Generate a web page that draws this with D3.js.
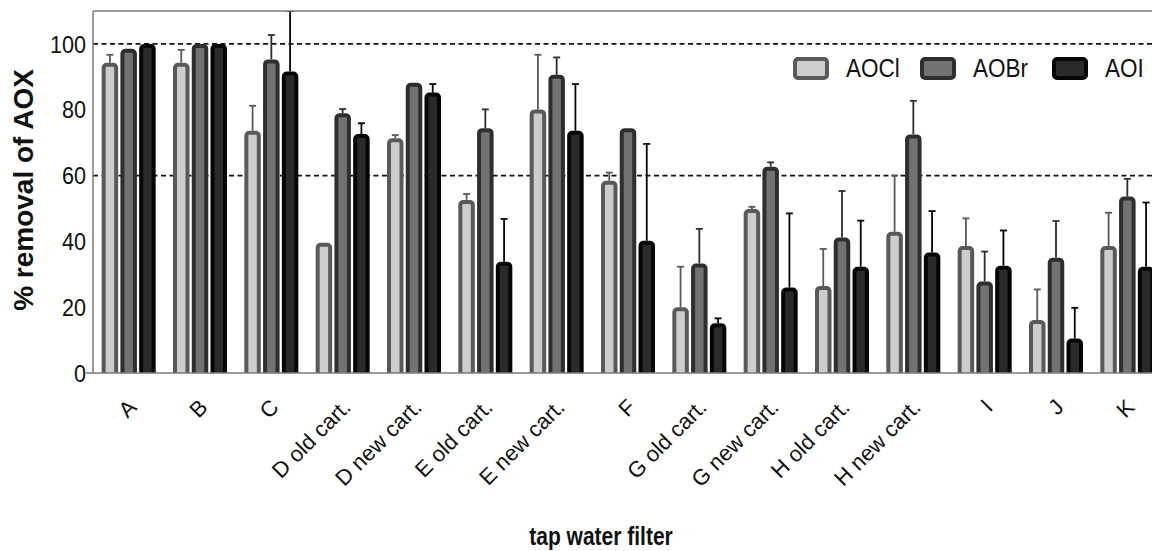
<!DOCTYPE html>
<html>
<head>
<meta charset="utf-8">
<script src="https://cdn.jsdelivr.net/npm/d3@7"></script>
<style>
  html, body { margin: 0; padding: 0; background: #fff; }
  #wrap { position: relative; width: 1152px; height: 551px; overflow: hidden; }
  svg { display: block; font-family: 'Liberation Sans', Arial, sans-serif; }
  .xlab {
    position: absolute; width: 200px; height: 22px; line-height: 22px;
    font: 22px 'Liberation Sans', Arial, sans-serif; color: #111;
    text-align: right; white-space: nowrap;
    transform-origin: 200px 18.6px; transform: rotate(-45deg);
  }
</style>
</head>
<body>
<div id="wrap"><svg id="chart" width="1152" height="551"></svg></div>
<script>
'use strict';

var filters = ['A', 'B', 'C', 'D old cart.', 'D new cart.', 'E old cart.', 'E new cart.', 'F',
  'G old cart.', 'G new cart.', 'H old cart.', 'H new cart.', 'I', 'J', 'K'];
var seriesNames = ['AOCl', 'AOBr', 'AOI'];

// mean removal (%)
var aocl = [94.3, 94.3, 73.6, 39.6, 71.3, 52.6, 80.1, 58.4, 20.0, 49.8, 26.4, 42.9, 38.6, 16.1, 38.6];
var aobr = [98.5, 100, 95.3, 78.9, 88.2, 74.4, 90.6, 74.4, 33.3, 62.7, 41.2, 72.5, 27.8, 35.0, 53.6];
var aoi = [100, 100, 91.6, 72.6, 85.2, 33.8, 73.6, 40.2, 15.1, 26.0, 32.3, 36.6, 32.6, 10.5, 32.3];

// standard deviation (upper whisker only)
var aoclErr = [2.4, 3.9, 7.6, 0, 1.0, 1.8, 16.6, 2.5, 12.3, 0.7, 11.3, 17.1, 8.4, 9.3, 10.1];
var aobrErr = [0, 0, 7.4, 1.3, 0, 5.7, 5.3, 0, 10.5, 1.3, 14.1, 10.2, 9.1, 11.2, 5.4];
var aoiErr = [0, 0, 18.4, 3.3, 2.6, 13.0, 14.2, 29.4, 1.5, 22.5, 14.0, 12.6, 10.7, 9.3, 19.5];

var yTicks = [0, 20, 40, 60, 80, 100];
var refLines = [60, 100];

var fills = { AOCl: '#cdcdcd', AOBr: '#727272', AOI: '#2a2a2a' };
var strokes = { AOCl: '#595959', AOBr: '#2e2e2e', AOI: '#050505' };

var values = { AOCl: aocl, AOBr: aobr, AOI: aoi };
var errors = { AOCl: aoclErr, AOBr: aobrErr, AOI: aoiErr };

var W = 1152;
var m = { left: 93, top: 11, right: 1163, bottom: 373 };

var svg = d3.select('#chart');

var x0 = d3.scaleBand().domain(filters).range([m.left, m.right]).paddingInner(0.18).paddingOuter(0.09);
var x1 = d3.scaleBand().domain(seriesNames).range([0, x0.bandwidth()]).padding(0.12);
var y = d3.scaleLinear().domain([0, 110]).range([m.bottom, m.top]);

// squeeze horizontal text a bit, the source figure is slightly narrow
function squish(sel, k) {
  sel.each(function () {
    var len = this.getComputedTextLength();
    d3.select(this).attr('textLength', len * k).attr('lengthAdjust', 'spacingAndGlyphs');
  });
}

svg.append('clipPath').attr('id', 'plotclip')
  .append('rect').attr('x', m.left).attr('y', m.top).attr('width', W - m.left).attr('height', m.bottom - m.top);

var plot = svg.append('g').attr('clip-path', 'url(#plotclip)');

// dashed reference lines
plot.selectAll('line.ref').data(refLines).enter().append('line')
  .attr('class', 'ref')
  .attr('x1', m.left).attr('x2', W)
  .attr('y1', function (d) { return y(d); }).attr('y2', function (d) { return y(d); })
  .style('stroke', '#111').style('stroke-width', 1.8).style('stroke-dasharray', '5,3.5');

var rows = [];
filters.forEach(function (f, i) {
  seriesNames.forEach(function (s) {
    rows.push({ filter: f, series: s, value: values[s][i], err: errors[s][i] });
  });
});

function cx(d) { return x0(d.filter) + x1(d.series) + x1.bandwidth() / 2; }

// error whiskers (behind bars)
var eb = plot.selectAll('g.err').data(rows.filter(function (d) { return d.err > 0; })).enter().append('g')
  .attr('class', 'err')
  .style('stroke', function (d) { return strokes[d.series]; })
  .style('stroke-width', 1.8);
eb.append('line')
  .attr('x1', cx).attr('x2', cx)
  .attr('y1', function (d) { return y(d.value); })
  .attr('y2', function (d) { return y(d.value + d.err); });
eb.append('line')
  .attr('x1', function (d) { return cx(d) - 3.5; })
  .attr('x2', function (d) { return cx(d) + 3.5; })
  .attr('y1', function (d) { return y(d.value + d.err); })
  .attr('y2', function (d) { return y(d.value + d.err); });

// bars
plot.selectAll('rect.bar').data(rows).enter().append('rect')
  .attr('class', 'bar')
  .attr('x', function (d) { return x0(d.filter) + x1(d.series) + 2; })
  .attr('width', x1.bandwidth() - 4)
  .attr('y', function (d) { return y(d.value) + 2; })
  .attr('height', function (d) { return y(0) - y(d.value) + 2; })
  .attr('rx', 3).attr('ry', 3)
  .style('fill', function (d) { return fills[d.series]; })
  .style('stroke', function (d) { return strokes[d.series]; })
  .style('stroke-width', 4);

// frame: top border, left axis, bottom axis
svg.append('line').attr('x1', m.left).attr('x2', W).attr('y1', m.top).attr('y2', m.top)
  .style('stroke', '#7a7a7a').style('stroke-width', 1.5);
svg.append('line').attr('x1', m.left).attr('x2', m.left).attr('y1', m.top).attr('y2', m.bottom)
  .style('stroke', '#7a7a7a').style('stroke-width', 1.5);
svg.append('line').attr('x1', m.left - 7).attr('x2', W).attr('y1', m.bottom).attr('y2', m.bottom)
  .style('stroke', '#7a7a7a').style('stroke-width', 1.5);

// y tick labels
var yl = svg.append('g').selectAll('text').data(yTicks).enter().append('text')
  .attr('x', m.left - 7)
  .attr('y', function (d) { return y(d); })
  .attr('dy', '0.36em')
  .attr('text-anchor', 'end')
  .style('font-size', '24px').style('fill', '#111')
  .text(function (d) { return d; });
squish(yl, 0.9);

// x tick labels, slanted 45 degrees; right end of each label sits under its group
d3.select('#wrap').selectAll('div.xlab').data(filters).enter().append('div')
  .attr('class', 'xlab')
  .style('left', function (d) { return (x0(d) + x0.bandwidth() / 2 + 8 - 200) + 'px'; })
  .style('top', (m.bottom + 35 - 18.6) + 'px')
  .text(function (d) { return d; });

// axis titles
svg.append('text')
  .attr('transform', 'translate(33,190) rotate(-90)')
  .attr('text-anchor', 'middle')
  .style('font-size', '28px').style('font-weight', 'bold').style('fill', '#111')
  .text('% removal of AOX');

var xt = svg.append('text')
  .attr('x', 601).attr('y', 545)
  .attr('text-anchor', 'middle')
  .style('font-size', '25px').style('font-weight', 'bold').style('fill', '#111')
  .text('tap water filter');
squish(xt, 0.84);

// legend
var legendX = [793, 920, 1052];
var lg = svg.append('g').selectAll('g').data(seriesNames).enter().append('g')
  .attr('transform', function (d, i) { return 'translate(' + legendX[i] + ',57)'; });
lg.append('rect')
  .attr('x', 2).attr('y', 2).attr('width', 32).attr('height', 19).attr('rx', 3)
  .style('fill', function (d) { return fills[d]; })
  .style('stroke', function (d) { return strokes[d]; })
  .style('stroke-width', 4);
var lt = lg.append('text')
  .attr('x', 53).attr('y', 20)
  .style('font-size', '25px').style('fill', '#111')
  .text(function (d) { return d; });
squish(lt, 0.9);
</script>
</body>
</html>
